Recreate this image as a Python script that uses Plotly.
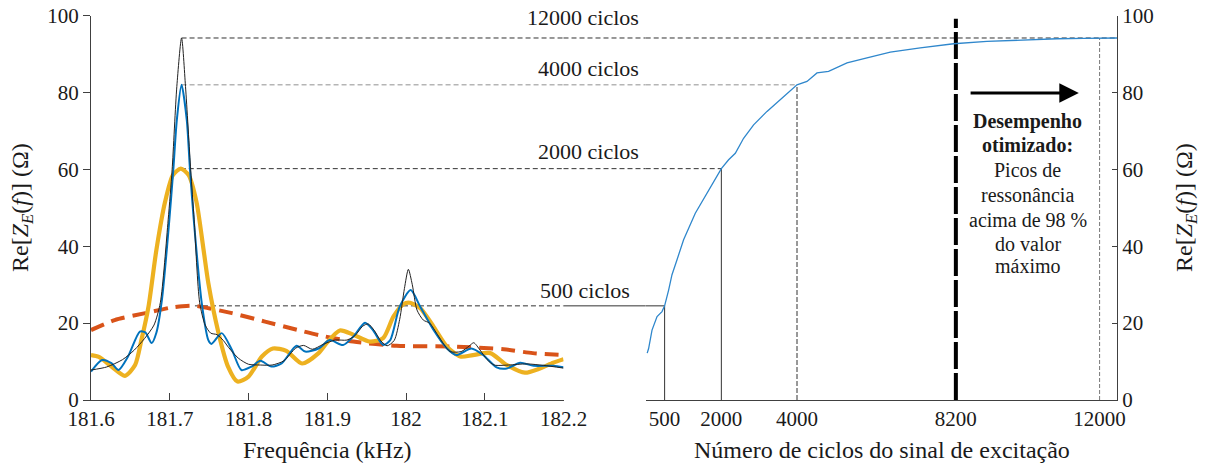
import plotly.graph_objects as go

FONT = "Liberation Serif, serif"

# Re[Z_E(f)] spectra for different excitation lengths (kHz, ohm)
freq_12000 = [181.600, 181.620, 181.640, 181.655, 181.668, 181.680, 181.688, 181.698, 181.703,
              181.709, 181.715, 181.720, 181.7266, 181.731, 181.738, 181.745, 181.752, 181.760,
              181.768, 181.775, 181.787, 181.800, 181.815, 181.830, 181.845, 181.860, 181.870,
              181.881, 181.895, 181.910, 181.925, 181.935, 181.945, 181.952, 181.960, 181.968,
              181.976, 181.985, 181.992, 181.998, 182.003, 182.008, 182.014, 182.022, 182.030,
              182.040, 182.048, 182.056, 182.070, 182.080, 182.086, 182.094, 182.103, 182.112,
              182.130, 182.153, 182.175, 182.200]
re_12000 = [7.8, 8.6, 10.5, 13.0, 16.0, 19.5, 25.3, 46.9, 59.9,
            81.6, 94.2, 81.6, 59.9, 46.9, 25.3, 19.5, 17.4, 17.0,
            15.5, 13.6, 10.9, 9.3, 9.1, 9.1, 10.2, 13.5, 14.2,
            13.2, 14.5, 15.6, 15.6, 16.7, 19.2, 19.8, 18.0, 15.4,
            14.1, 15.5, 21.0, 29.0, 34.0, 30.0, 23.4, 20.8, 20.0,
            17.0, 14.5, 12.6, 12.6, 14.0, 14.9, 13.0, 10.5, 9.1,
            9.1, 9.4, 9.0, 8.3]

freq_4000 = [181.600, 181.614, 181.626, 181.635, 181.647, 181.662, 181.669, 181.677, 181.683,
             181.690, 181.6995, 181.7045, 181.709, 181.715, 181.7216, 181.7257, 181.7305,
             181.7406, 181.749, 181.753, 181.766, 181.779, 181.791, 181.804, 181.815, 181.829,
             181.842, 181.861, 181.872, 181.889, 181.903, 181.920, 181.933, 181.948, 181.958,
             181.971, 181.980, 181.992, 182.006, 182.018, 182.035, 182.052, 182.064, 182.083,
             182.098, 182.115, 182.128, 182.145, 182.162, 182.187, 182.200]
re_4000 = [7.4, 10.4, 9.6, 7.8, 11.3, 17.8, 17.6, 14.8, 17.5,
           26.0, 46.9, 59.9, 72.9, 82.0, 72.9, 59.9, 46.9,
           25.3, 15.6, 14.6, 17.4, 13.0, 7.8, 8.7, 10.2, 8.7,
           9.5, 14.1, 12.6, 13.4, 15.6, 14.3, 16.5, 20.1, 18.2,
           14.3, 15.6, 24.3, 28.6, 24.3, 18.2, 13.4, 11.7, 13.4,
           11.7, 8.5, 8.2, 9.7, 8.9, 8.9, 8.5]

freq_2000 = [181.600, 181.610, 181.626, 181.643, 181.656, 181.664, 181.673, 181.683, 181.694,
             181.704, 181.714, 181.724, 181.734, 181.743, 181.749, 181.762, 181.774, 181.786,
             181.800, 181.817, 181.831, 181.848, 181.868, 181.889, 181.900, 181.916, 181.933,
             181.954, 181.971, 181.984, 181.997, 182.005, 182.018, 182.035, 182.052, 182.069,
             182.085, 182.107, 182.128, 182.151, 182.170, 182.187, 182.200]
re_2000 = [11.7, 11.2, 8.7, 6.3, 9.1, 15.6, 24.3, 39.0, 51.5,
           58.5, 60.2, 58.5, 51.5, 39.0, 30.4, 17.4, 8.7, 4.8,
           6.1, 11.3, 13.4, 12.8, 9.5, 12.2, 15.0, 18.1, 17.0,
           15.2, 16.1, 21.7, 25.0, 25.3, 23.9, 19.1, 13.9, 11.3,
           11.7, 12.2, 9.1, 7.1, 8.2, 9.7, 10.6]

freq_500 = [181.600, 181.630, 181.669, 181.700, 181.716, 181.732, 181.779, 181.821, 181.863,
            181.893, 181.933, 181.988, 182.060, 182.124, 182.161, 182.200]
re_500 = [18.2, 20.8, 22.6, 24.0, 24.4, 24.5, 22.6, 20.4, 18.2,
          16.7, 15.2, 14.1, 13.9, 13.2, 12.2, 11.7]

# Resonance peak height versus number of excitation cycles
cycles = [40, 77, 167, 300, 431, 500, 606, 695, 828, 1002, 1311, 1621, 1840, 2000, 2192,
          2369, 2588, 2853, 3207, 3558, 4000, 4264, 4529, 4835, 5322, 5850, 6466, 7259,
          8140, 9022, 9990, 10873, 11576, 12000, 12460]
peak_re = [12.2, 13.4, 18.2, 21.7, 23.0, 24.5, 28.6, 32.6, 36.5, 41.7, 48.6, 53.8, 57.3, 60.2,
           62.5, 64.2, 68.1, 71.6, 75.1, 78.1, 82.0, 82.9, 85.1, 85.5, 87.7, 89.0, 90.5, 91.6,
           92.7, 93.3, 93.75, 94.0, 94.1, 94.2, 94.2]

freq_tickvals = [181.6, 181.7, 181.8, 181.9, 182.0, 182.1, 182.2]
freq_ticktext = ["181.6", "181.7", "181.8", "181.9", "182", "182.1", "182.2"]
cycle_tickvals = [500, 2000, 4000, 8200, 12000]
cycle_ticktext = ["500", "2000", "4000", "8200", "12000"]
re_tickvals = [0, 20, 40, 60, 80, 100]
optimum_cycles = 8200
optimum_top = 99.2

note_lines = ["<b>Desempenho</b>", "<b>otimizado:</b>", "Picos de", "ressonância",
              "acima de 98 %", "do valor", "máximo"]

# subplot geometry
L_DOM = [91 / 1206, 563.5 / 1206]
R_DOM = [645.7 / 1206, 1117 / 1206]
Y_DOM = [66 / 466, 450.3 / 466]
F_RANGE = [181.6, 182.2]
C_RANGE = [0, 12460]

fig = go.Figure()

spectra = [
    (freq_500, re_500, dict(color="#D95319", width=4, dash="14px,8px"), 500),
    (freq_2000, re_2000, dict(color="#EDB120", width=4.2), 2000),
    (freq_4000, re_4000, dict(color="#0072BD", width=2), 4000),
    (freq_12000, re_12000, dict(color="#222222", width=1), 12000),
]
for fx, fy, ln, n in spectra:
    fig.add_trace(go.Scatter(x=fx, y=fy, mode="lines", line=dict(shape="spline", smoothing=0.7, **ln),
                             name=f"{n} ciclos", xaxis="x", yaxis="y", hoverinfo="skip"))

fig.add_trace(go.Scatter(x=cycles, y=peak_re, mode="lines", line=dict(color="#2f87cc", width=1.3),
                         xaxis="x2", yaxis="y2", hoverinfo="skip", name="pico"))

# guide lines linking each spectrum peak to its point on the convergence curve
guide_styles = {
    12000: dict(h=dict(color="#333333", width=1, dash="5px,3px"), gap=None,
                v=dict(color="#777777", width=1, dash="4px,2px")),
    4000: dict(h=dict(color="#b5b5b5", width=1.5, dash="5px,3px"), gap=None,
               v=dict(color="#333333", width=1, dash="5px,2px")),
    2000: dict(h=dict(color="#333333", width=1, dash="5px,3px"), gap=None,
               v=dict(color="#333333", width=1)),
    500: dict(h=dict(color="#333333", width=1, dash="5px,3px"), gap=dict(color="#333333", width=1),
              v=dict(color="#333333", width=1)),
}
shapes = []
annotations = []
label_shift = {12000: 20, 4000: 16, 2000: 17, 500: 15}
label_right = {12000: 640.7, 4000: 640.7, 2000: 640.7, 500: 631.7}
for fx, fy, ln, n in spectra:
    level = max(fy)
    f_peak = fx[fy.index(level)]
    st = guide_styles[n]
    gap_line = st["gap"] or st["h"]
    right_end = C_RANGE[1] if n == 12000 else n
    shapes.append(dict(type="line", xref="x", yref="y", x0=f_peak, x1=F_RANGE[1], y0=level, y1=level,
                       line=st["h"], layer="below"))
    shapes.append(dict(type="line", xref="paper", yref="y", x0=L_DOM[1], x1=R_DOM[0], y0=level, y1=level,
                       line=gap_line, layer="below"))
    shapes.append(dict(type="line", xref="x2", yref="y2", x0=0, x1=right_end, y0=level, y1=level,
                       line=gap_line, layer="below"))
    shapes.append(dict(type="line", xref="x2", yref="y2", x0=n, x1=n, y0=0, y1=level,
                       line=st["v"], layer="below"))
    annotations.append(dict(text=f"{n} ciclos", xref="paper", yref="y", x=label_right[n] / 1206, y=level,
                            xanchor="right", yanchor="middle", yshift=label_shift[n], showarrow=False,
                            font=dict(family=FONT, size=22)))

shapes.append(dict(type="line", xref="x2", yref="y2", x0=optimum_cycles, x1=optimum_cycles, y0=0,
                   y1=optimum_top, line=dict(color="black", width=4, dash="27px,4px"), layer="below"))

# arrow pointing towards longer excitation
annotations.append(dict(xref="x2", yref="y2", axref="x2", ayref="y2", x=11450, y=79.9, ax=8550, ay=79.9,
                        text="", showarrow=True, arrowhead=2, arrowsize=1.3, arrowwidth=3,
                        arrowcolor="black"))

note_y = [72.4, 66.4, 59.9, 53.4, 46.9, 40.6, 34.9]
for txt, yv in zip(note_lines, note_y):
    annotations.append(dict(text=txt, xref="x2", yref="y2", x=10100, y=yv, xanchor="center",
                            yanchor="middle", showarrow=False, font=dict(family=FONT, size=20)))

# axis titles
y_title = "Re[<i>Z</i><sub><i>E</i></sub>(<i>f</i>)] (Ω)"
annotations += [
    dict(text="Frequência (kHz)", xref="paper", yref="paper", x=327 / 1206, y=(466 - 450) / 466,
         xanchor="center", yanchor="middle", showarrow=False, font=dict(family=FONT, size=24)),
    dict(text="Número de ciclos do sinal de excitação", xref="paper", yref="paper", x=881.5 / 1206,
         y=(466 - 450) / 466, xanchor="center", yanchor="middle", showarrow=False,
         font=dict(family=FONT, size=24)),
    dict(text=y_title, xref="paper", yref="paper", x=22 / 1206, y=(466 - 208) / 466, textangle=-90,
         xanchor="center", yanchor="middle", showarrow=False, font=dict(family=FONT, size=24)),
    dict(text=y_title, xref="paper", yref="paper", x=1186 / 1206, y=(466 - 208) / 466, textangle=-90,
         xanchor="center", yanchor="middle", showarrow=False, font=dict(family=FONT, size=24)),
]

axis_common = dict(showgrid=False, zeroline=False, showline=True, linecolor="#404040", linewidth=1,
                   tickcolor="#404040", tickfont=dict(family=FONT, size=21), automargin=False)

fig.update_layout(
    width=1206, height=466,
    margin=dict(l=0, r=0, t=0, b=0, autoexpand=False),
    paper_bgcolor="white", plot_bgcolor="white",
    showlegend=False,
    font=dict(family=FONT, color="#1a1a1a"),
    xaxis=dict(domain=L_DOM, range=F_RANGE, anchor="y", tickvals=freq_tickvals, ticktext=freq_ticktext,
               ticks="inside", ticklen=7, **axis_common),
    yaxis=dict(domain=Y_DOM, range=[0, 100], anchor="x", tickvals=re_tickvals, ticks="outside",
               ticklen=7, **axis_common),
    xaxis2=dict(domain=R_DOM, range=C_RANGE, anchor="y2", tickvals=cycle_tickvals, ticktext=cycle_ticktext,
                ticks="", **axis_common),
    yaxis2=dict(domain=Y_DOM, range=[0, 100], anchor="x2", side="right", tickvals=re_tickvals,
                ticks="inside", ticklen=5, **axis_common),
    shapes=shapes,
    annotations=annotations,
)

fig.write_html("out.html")
